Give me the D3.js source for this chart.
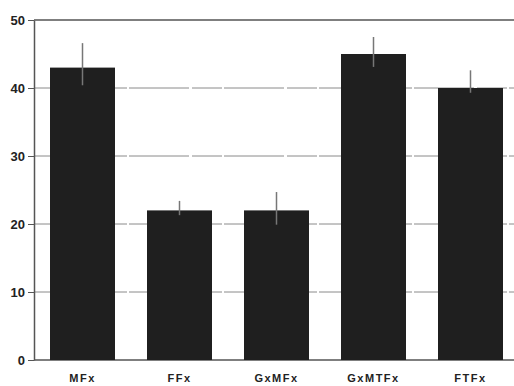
<!DOCTYPE html>
<html>
<head>
<meta charset="utf-8">
<script src="https://cdn.jsdelivr.net/npm/d3@7"></script>
<style>
  body { margin: 0; background: #fff; }
  text { font-family: "Liberation Sans", Arial, sans-serif; fill: #222; }
</style>
</head>
<body>
<script>
// values
const categories = ['MFx', 'FFx', 'GxMFx', 'GxMTFx', 'FTFx']
const means = [43, 22, 22, 45, 40]
const errLow = [40.4, 21.3, 19.9, 43.1, 39.3]
const errHigh = [46.6, 23.4, 24.7, 47.5, 42.6]
const yTicks = [0, 10, 20, 30, 40, 50]

const W = 514, H = 386
const plotLeft = 34, plotTop = 20, plotBottom = 360

const svg = d3.select('body').append('svg')
    .attr('width', W)
    .attr('height', H)

const x = d3.scaleBand()
    .domain(categories)
    .range([plotLeft, 519])
    .paddingInner(0.33)
    .paddingOuter(0.165)

const y = d3.scaleLinear()
    .domain([0, 50])
    .range([plotBottom, plotTop])

// faint grid lines
svg.append('g')
    .selectAll('line')
    .data(yTicks.filter(d => d > 0 && d < 50))
    .join('line')
    .attr('x1', plotLeft)
    .attr('x2', W)
    .attr('y1', d => y(d))
    .attr('y2', d => y(d))
    .attr('stroke', '#8a8a8a')
    .attr('stroke-width', 1)
    .attr('stroke-dasharray', '60 3 30 2')

// frame: top line + baseline
svg.append('line')
    .attr('x1', plotLeft).attr('x2', W)
    .attr('y1', y(50)).attr('y2', y(50))
    .attr('stroke', '#555').attr('stroke-width', 1.5)
svg.append('line')
    .attr('x1', plotLeft).attr('x2', W)
    .attr('y1', y(0)).attr('y2', y(0))
    .attr('stroke', '#555').attr('stroke-width', 1.5)

// y axis
const yAxis = svg.append('g')
    .attr('transform', `translate(${plotLeft},0)`)
    .call(d3.axisLeft(y).tickValues(yTicks).tickSize(6).tickSizeOuter(0))
yAxis.select('.domain').attr('stroke', '#555').attr('stroke-width', 1.5)
yAxis.selectAll('.tick line').attr('stroke', '#555')
yAxis.selectAll('.tick text')
    .attr('x', -9)
    .style('font-size', '13px')
    .style('font-weight', 'bold')
    .attr('fill', '#222')

// bars
svg.append('g')
    .selectAll('rect')
    .data(categories)
    .join('rect')
    .attr('x', d => x(d))
    .attr('width', x.bandwidth())
    .attr('y', (d, i) => y(means[i]))
    .attr('height', (d, i) => y(0) - y(means[i]))
    .attr('fill', '#1f1f1f')

// error bars
svg.append('g')
    .selectAll('line')
    .data(categories)
    .join('line')
    .attr('x1', d => x(d) + x.bandwidth() / 2)
    .attr('x2', d => x(d) + x.bandwidth() / 2)
    .attr('y1', (d, i) => y(errHigh[i]))
    .attr('y2', (d, i) => y(errLow[i]))
    .attr('stroke', '#777')
    .attr('stroke-width', 1.5)

// category labels
svg.append('g')
    .selectAll('text')
    .data(categories)
    .join('text')
    .attr('x', d => x(d) + x.bandwidth() / 2)
    .attr('y', 382)
    .attr('text-anchor', 'middle')
    .style('font-size', '11px')
    .style('font-weight', 'bold')
    .style('letter-spacing', '1.5px')
    .text(d => d)
</script>
</body>
</html>
